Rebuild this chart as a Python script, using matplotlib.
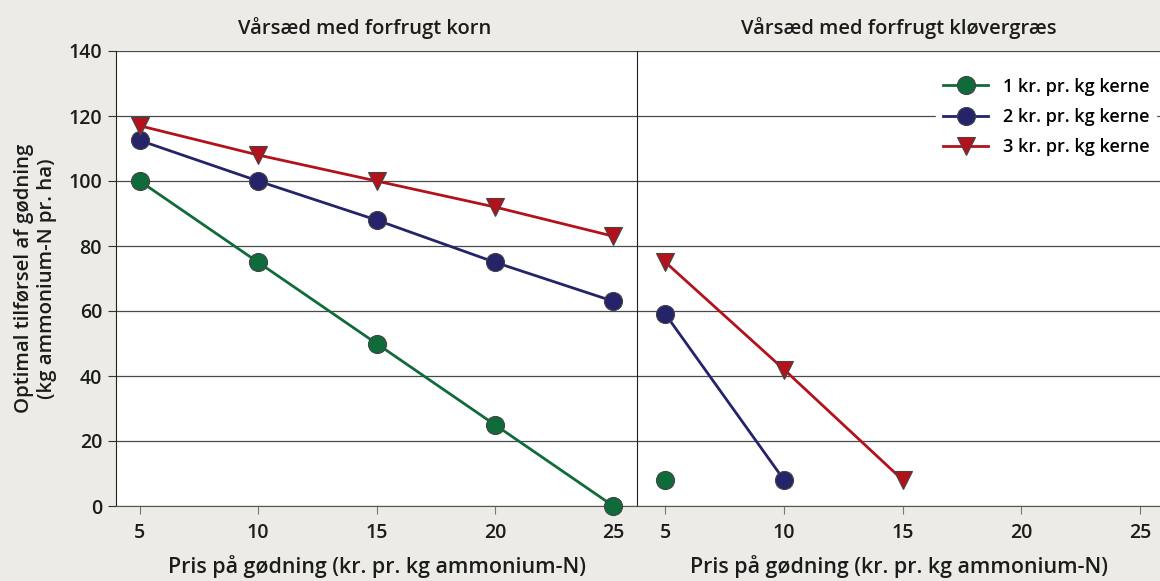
import matplotlib.pyplot as plt

plt.rcParams['font.family'] = ['Open Sans', 'DejaVu Sans']
plt.rcParams['font.weight'] = 'semibold'
plt.rcParams['axes.titleweight'] = 'semibold'
plt.rcParams['axes.labelweight'] = 'semibold'

# data
pris = [5, 10, 15, 20, 25]
korn_1kr = [100, 75, 50, 25, 0]
korn_2kr = [112.5, 100, 88, 75, 63]
korn_3kr = [117, 108, 100, 92, 83]

klover_pris_1kr = [5]
klover_1kr = [8]
klover_pris_2kr = [5, 10]
klover_2kr = [59, 8]
klover_pris_3kr = [5, 10, 15]
klover_3kr = [75, 42, 8]

labels = ['1 kr. pr. kg kerne', '2 kr. pr. kg kerne', '3 kr. pr. kg kerne']
titles = ['Vårsæd med forfrugt korn', 'Vårsæd med forfrugt kløvergræs']
xlabel = 'Pris på gødning (kr. pr. kg ammonium-N)'
ylabel = 'Optimal tilførsel af gødning\n(kg ammonium-N pr. ha)'
yticks = [0, 20, 40, 60, 80, 100, 120, 140]

green = '#106b3b'
blue = '#25236a'
red = '#b3121c'
bg = '#ecebe5'
txt = '#1c1c1c'

W, H = 1160, 581
fig = plt.figure(figsize=(W / 100, H / 100), dpi=100, facecolor=bg)
ax1 = fig.add_axes([116 / W, 75 / H, 521 / W, 455 / H])
ax2 = fig.add_axes([637 / W, 75 / H, 523 / W, 455 / H])

styles = [(green, 'o', 13), (blue, 'o', 13), (red, 'v', 13)]

def draw(ax, series):
	for (xs, ys), (col, mk, ms), lab in zip(series, styles, labels):
		ax.plot(xs, ys, color=col, lw=2, marker=mk, markersize=ms,
				markerfacecolor=col, markeredgecolor='#444444', markeredgewidth=0.8,
				label=lab, zorder=3, clip_on=False)

draw(ax1, [(pris, korn_1kr), (pris, korn_2kr), (pris, korn_3kr)])
draw(ax2, [(klover_pris_1kr, klover_1kr), (klover_pris_2kr, klover_2kr),
		   (klover_pris_3kr, klover_3kr)])

for ax, t, tx in zip([ax1, ax2], titles, [0.478, 0.5]):
	ax.set_facecolor('white')
	ax.set_ylim(0, 140)
	ax.set_yticks(yticks)
	ax.set_xticks(pris)
	ax.grid(axis='y', color='#4a4a4a', lw=0.9, zorder=1)
	ax.set_axisbelow(True)
	ax.set_title(t, fontsize=14.5, pad=12, color=txt, x=tx)
	ax.set_xlabel(xlabel, fontsize=15.4, color=txt, labelpad=9)
	ax.spines['top'].set_visible(False)
	ax.spines['right'].set_visible(False)
	ax.spines['bottom'].set_color('#555555')
	ax.tick_params(axis='x', length=6, color='#777777', labelsize=14,
				   labelcolor=txt, pad=6)

ax1.set_xlim(4, 26)
ax2.set_xlim(3.8, 25.85)
ax1.set_ylabel(ylabel, fontsize=14.7, color=txt, labelpad=8)
ax1.tick_params(axis='y', length=6, color='#333333', labelsize=14,
				labelcolor=txt, pad=4)
ax1.spines['left'].set_color('#222222')
ax2.spines['left'].set_color('#222222')
ax2.tick_params(axis='y', length=0, labelleft=False)

leg = ax2.legend(loc='upper right', bbox_to_anchor=(1.0, 0.965), frameon=True,
				 fontsize=13, handlelength=2.5, borderaxespad=0.2, labelspacing=0.68)
leg.get_frame().set_facecolor('white')
leg.get_frame().set_edgecolor('white')
leg.get_frame().set_alpha(1)
leg.get_frame().set_boxstyle('square', pad=0)

fig.savefig('out.png', dpi=100, facecolor=bg)
